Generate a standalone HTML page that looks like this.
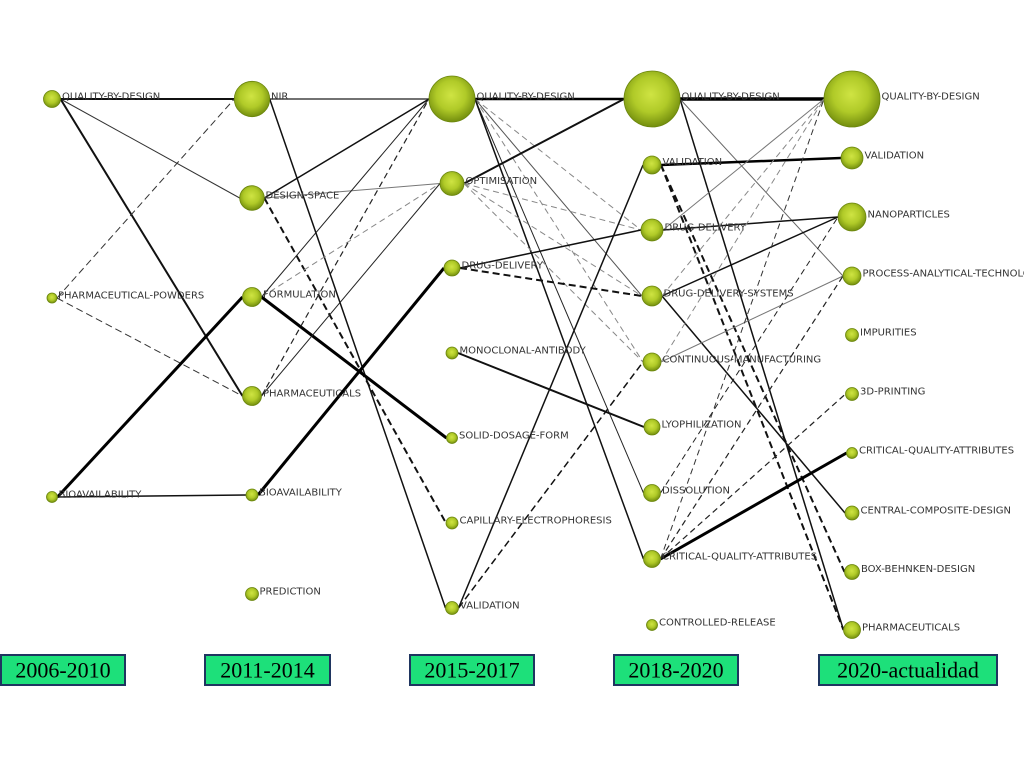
<!DOCTYPE html>
<html>
<head>
<meta charset="utf-8">
<style>
  html,body{margin:0;padding:0;background:#fff;}
  svg{display:block;}
  .lbl{font-family:"DejaVu Sans","Liberation Sans",sans-serif;font-size:10px;fill:#333;}
  .yr{font-family:"Liberation Serif",serif;font-size:22px;fill:#000;}
</style>
</head>
<body>
<svg width="1024" height="768" viewBox="0 0 1024 768" xmlns="http://www.w3.org/2000/svg">
  <defs>
    <radialGradient id="g" cx="48%" cy="42%" r="58%">
      <stop offset="0" stop-color="#cfe443"/>
      <stop offset="0.55" stop-color="#b0ca28"/>
      <stop offset="1" stop-color="#738e0e"/>
    </radialGradient>
  </defs>
  <rect width="1024" height="768" fill="#fff"/>

  <!-- edges -->
  <g fill="none" stroke-linecap="butt">
    <!-- col1 -> col2 -->
    <line x1="60.5" y1="99" x2="234.3" y2="99" stroke="#111" stroke-width="2"/>
    <line x1="60.5" y1="99" x2="239.7" y2="198" stroke="#333" stroke-width="1"/>
    <line x1="60.5" y1="99" x2="242.5" y2="396" stroke="#111" stroke-width="2"/>
    <line x1="57" y1="298" x2="234.3" y2="99" stroke="#333" stroke-width="1" stroke-dasharray="7,4"/>
    <line x1="57" y1="298" x2="242.5" y2="396" stroke="#333" stroke-width="1" stroke-dasharray="7,4"/>
    <line x1="57.5" y1="497" x2="242.5" y2="297" stroke="#000" stroke-width="3"/>
    <line x1="57.5" y1="497" x2="246" y2="495" stroke="#111" stroke-width="1.5"/>

    <!-- col2 -> col3 -->
    <line x1="269.7" y1="99" x2="429" y2="99" stroke="#444" stroke-width="1.5"/>
    <line x1="269.7" y1="99" x2="445.5" y2="608" stroke="#111" stroke-width="1.5"/>
    <line x1="264.3" y1="198" x2="429" y2="99" stroke="#111" stroke-width="1.5"/>
    <line x1="264.3" y1="198" x2="440" y2="183.5" stroke="#777" stroke-width="1"/>
    <line x1="264.3" y1="198" x2="446" y2="523" stroke="#111" stroke-width="2" stroke-dasharray="7,4"/>
    <line x1="261.5" y1="297" x2="429" y2="99" stroke="#222" stroke-width="1"/>
    <line x1="261.5" y1="297" x2="440" y2="183.5" stroke="#888" stroke-width="1" stroke-dasharray="6,4"/>
    <line x1="261.5" y1="297" x2="446.5" y2="438" stroke="#000" stroke-width="3"/>
    <line x1="261.5" y1="396" x2="429" y2="99" stroke="#222" stroke-width="1.2" stroke-dasharray="6,4"/>
    <line x1="261.5" y1="396" x2="440" y2="183.5" stroke="#222" stroke-width="1"/>
    <line x1="258" y1="495" x2="444" y2="268" stroke="#000" stroke-width="3"/>

    <!-- col3 -> col4 -->
    <line x1="475" y1="99" x2="624" y2="99" stroke="#000" stroke-width="2.5"/>
    <line x1="475" y1="99" x2="641" y2="230" stroke="#888" stroke-width="1" stroke-dasharray="6,4"/>
    <line x1="475" y1="99" x2="642" y2="296" stroke="#555" stroke-width="1"/>
    <line x1="475" y1="99" x2="643" y2="362" stroke="#888" stroke-width="1" stroke-dasharray="6,4"/>
    <line x1="475" y1="99" x2="643.5" y2="493" stroke="#222" stroke-width="1"/>
    <line x1="475" y1="99" x2="643.5" y2="559" stroke="#111" stroke-width="1.5"/>
    <line x1="464" y1="183.5" x2="624" y2="99" stroke="#111" stroke-width="2"/>
    <line x1="464" y1="183.5" x2="641" y2="230" stroke="#888" stroke-width="1" stroke-dasharray="6,4"/>
    <line x1="464" y1="183.5" x2="642" y2="296" stroke="#888" stroke-width="1" stroke-dasharray="6,4"/>
    <line x1="464" y1="183.5" x2="643" y2="362" stroke="#888" stroke-width="1" stroke-dasharray="6,4"/>
    <line x1="460" y1="268" x2="641" y2="230" stroke="#111" stroke-width="1.5"/>
    <line x1="460" y1="268" x2="642" y2="296" stroke="#111" stroke-width="2" stroke-dasharray="7,4"/>
    <line x1="458" y1="353" x2="644" y2="427" stroke="#111" stroke-width="2"/>
    <line x1="458.5" y1="608" x2="643" y2="165" stroke="#111" stroke-width="1.5"/>
    <line x1="458.5" y1="608" x2="643" y2="362" stroke="#111" stroke-width="1.5" stroke-dasharray="7,4"/>

    <!-- col4 -> col5 -->
    <line x1="680" y1="99" x2="824" y2="99" stroke="#000" stroke-width="3.5"/>
    <line x1="680" y1="99" x2="843" y2="276" stroke="#666" stroke-width="1"/>
    <line x1="680" y1="99" x2="843.5" y2="630" stroke="#111" stroke-width="1.5"/>
    <line x1="661" y1="165" x2="841" y2="158" stroke="#000" stroke-width="2.5"/>
    <line x1="661" y1="165" x2="844.5" y2="572" stroke="#111" stroke-width="2" stroke-dasharray="7,4"/>
    <line x1="661" y1="165" x2="843.5" y2="630" stroke="#111" stroke-width="2" stroke-dasharray="7,4"/>
    <line x1="663" y1="230" x2="824" y2="99" stroke="#777" stroke-width="1"/>
    <line x1="663" y1="230" x2="838" y2="217" stroke="#111" stroke-width="1.5"/>
    <line x1="662" y1="296" x2="838" y2="217" stroke="#111" stroke-width="1.5"/>
    <line x1="662" y1="296" x2="845" y2="513" stroke="#111" stroke-width="1.5"/>
    <line x1="662" y1="296" x2="824" y2="99" stroke="#888" stroke-width="1" stroke-dasharray="6,4"/>
    <line x1="661" y1="362" x2="843" y2="276" stroke="#777" stroke-width="1"/>
    <line x1="661" y1="362" x2="824" y2="99" stroke="#888" stroke-width="1" stroke-dasharray="6,4"/>
    <line x1="660.5" y1="493" x2="838" y2="217" stroke="#222" stroke-width="1" stroke-dasharray="6,4"/>
    <line x1="660.5" y1="559" x2="846.5" y2="453" stroke="#000" stroke-width="3"/>
    <line x1="660.5" y1="559" x2="845.5" y2="394" stroke="#222" stroke-width="1.2" stroke-dasharray="6,4"/>
    <line x1="660.5" y1="559" x2="843" y2="276" stroke="#222" stroke-width="1.2" stroke-dasharray="6,4"/>
    <line x1="660.5" y1="559" x2="824" y2="99" stroke="#333" stroke-width="1" stroke-dasharray="6,4"/>
  </g>

  <!-- nodes -->
  <g fill="url(#g)" stroke="#6a850c" stroke-width="0.8">
    <circle cx="52" cy="99" r="8.5"/>
    <circle cx="52" cy="298" r="5"/>
    <circle cx="52" cy="497" r="5.5"/>

    <circle cx="252" cy="99" r="17.7"/>
    <circle cx="252" cy="198" r="12.3"/>
    <circle cx="252" cy="297" r="9.5"/>
    <circle cx="252" cy="396" r="9.5"/>
    <circle cx="252" cy="495" r="6"/>
    <circle cx="252" cy="594" r="6.5"/>

    <circle cx="452" cy="99" r="23"/>
    <circle cx="452" cy="183.5" r="12"/>
    <circle cx="452" cy="268" r="8"/>
    <circle cx="452" cy="353" r="6"/>
    <circle cx="452" cy="438" r="5.5"/>
    <circle cx="452" cy="523" r="6"/>
    <circle cx="452" cy="608" r="6.5"/>

    <circle cx="652" cy="99" r="28"/>
    <circle cx="652" cy="165" r="9"/>
    <circle cx="652" cy="230" r="11"/>
    <circle cx="652" cy="296" r="10"/>
    <circle cx="652" cy="362" r="9"/>
    <circle cx="652" cy="427" r="8"/>
    <circle cx="652" cy="493" r="8.5"/>
    <circle cx="652" cy="559" r="8.5"/>
    <circle cx="652" cy="625" r="5.5"/>

    <circle cx="852" cy="99" r="28"/>
    <circle cx="852" cy="158" r="11"/>
    <circle cx="852" cy="217" r="14"/>
    <circle cx="852" cy="276" r="9"/>
    <circle cx="852" cy="335" r="6.5"/>
    <circle cx="852" cy="394" r="6.5"/>
    <circle cx="852" cy="453" r="5.5"/>
    <circle cx="852" cy="513" r="7"/>
    <circle cx="852" cy="572" r="7.5"/>
    <circle cx="852" cy="630" r="8.5"/>
  </g>

  <!-- labels -->
  <g class="lbl">
    <text x="62" y="99.5">QUALITY-BY-DESIGN</text>
    <text x="58" y="298.5">PHARMACEUTICAL-POWDERS</text>
    <text x="58.5" y="497.5">BIOAVAILABILITY</text>

    <text x="271" y="99.5">NIR</text>
    <text x="265.5" y="198.5">DESIGN-SPACE</text>
    <text x="263" y="297.5">FORMULATION</text>
    <text x="263" y="396.5">PHARMACEUTICALS</text>
    <text x="259" y="495.5">BIOAVAILABILITY</text>
    <text x="259.5" y="594.5">PREDICTION</text>

    <text x="476.5" y="99.5">QUALITY-BY-DESIGN</text>
    <text x="465.5" y="184">OPTIMISATION</text>
    <text x="461.5" y="268.5">DRUG-DELIVERY</text>
    <text x="459.5" y="353.5">MONOCLONAL-ANTIBODY</text>
    <text x="459" y="438.5">SOLID-DOSAGE-FORM</text>
    <text x="459.5" y="523.5">CAPILLARY-ELECTROPHORESIS</text>
    <text x="460" y="608.5">VALIDATION</text>

    <text x="681.5" y="99.5">QUALITY-BY-DESIGN</text>
    <text x="662.5" y="165">VALIDATION</text>
    <text x="664.5" y="230.5">DRUG-DELIVERY</text>
    <text x="663.5" y="296.5">DRUG-DELIVERY-SYSTEMS</text>
    <text x="662.5" y="362.5">CONTINUOUS-MANUFACTURING</text>
    <text x="661.5" y="427.5">LYOPHILIZATION</text>
    <text x="662" y="493.5">DISSOLUTION</text>
    <text x="662" y="559.5">CRITICAL-QUALITY-ATTRIBUTES</text>
    <text x="659" y="625.5">CONTROLLED-RELEASE</text>

    <text x="881.5" y="99.5">QUALITY-BY-DESIGN</text>
    <text x="864.5" y="158.5">VALIDATION</text>
    <text x="867.5" y="217.5">NANOPARTICLES</text>
    <text x="862.5" y="276.5">PROCESS-ANALYTICAL-TECHNOLOGY</text>
    <text x="860" y="335.5">IMPURITIES</text>
    <text x="860" y="394.5">3D-PRINTING</text>
    <text x="859" y="453.5">CRITICAL-QUALITY-ATTRIBUTES</text>
    <text x="860.5" y="513.5">CENTRAL-COMPOSITE-DESIGN</text>
    <text x="861" y="572">BOX-BEHNKEN-DESIGN</text>
    <text x="862" y="630.5">PHARMACEUTICALS</text>
  </g>

  <!-- period boxes -->
  <g fill="#1de07a" stroke="#1f3560" stroke-width="2">
    <rect x="1" y="655" width="124" height="30"/>
    <rect x="205" y="655" width="125" height="30"/>
    <rect x="410" y="655" width="124" height="30"/>
    <rect x="614" y="655" width="124" height="30"/>
    <rect x="819" y="655" width="178" height="30"/>
  </g>
  <g class="yr" text-anchor="middle">
    <text x="63" y="677.5">2006-2010</text>
    <text x="267.5" y="677.5">2011-2014</text>
    <text x="472" y="677.5">2015-2017</text>
    <text x="676" y="677.5">2018-2020</text>
    <text x="908" y="677.5">2020-actualidad</text>
  </g>
</svg>
</body>
</html>
